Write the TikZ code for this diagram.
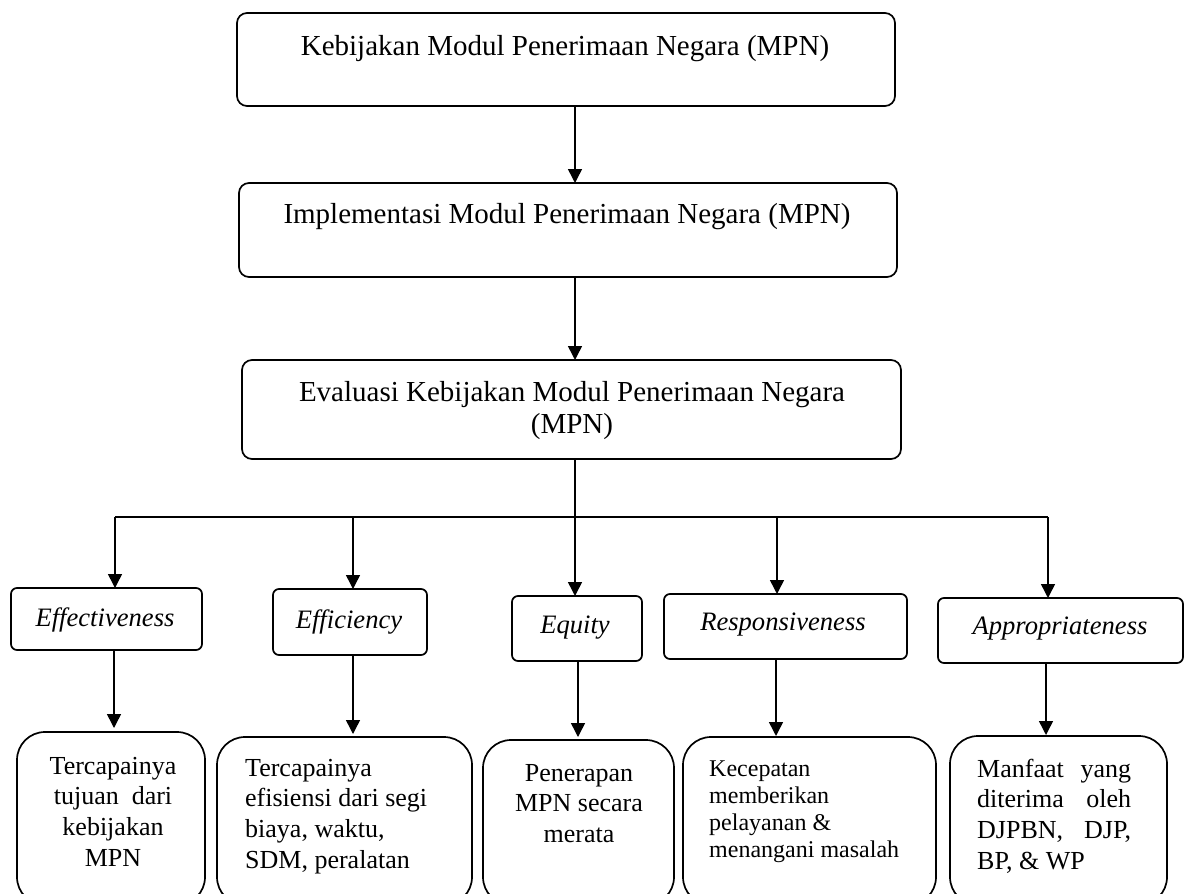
\documentclass[tikz,border=0pt]{standalone}
\usepackage{fontspec}
\setmainfont{Liberation Serif}
\usetikzlibrary{arrows.meta}
\begin{document}
\begin{tikzpicture}[x=1pt,y=-1pt,
  topbox/.style={draw, line width=1.7pt, rounded corners=10pt, inner sep=0pt, outer sep=0pt},
  critbox/.style={draw, line width=1.7pt, rounded corners=6pt, inner sep=0pt, outer sep=0pt},
  resbox/.style={draw, line width=1.7pt, rounded corners=28pt, inner sep=0pt, outer sep=0pt},
  toptext/.style={anchor=base, inner sep=0pt, font=\fontsize{29}{32}\selectfont},
  crittext/.style={anchor=base, inner sep=0pt, font=\fontsize{26.6}{30}\selectfont\itshape},
  restext/.style={anchor=north, inner sep=0pt, font=\fontsize{26}{30.7}\selectfont},
  link/.style={line width=1.5pt},
  arr/.style={line width=1.5pt, -{Triangle[length=14pt,width=14pt]}},
]
\fill[white] (0,0) rectangle (1189,894);
\useasboundingbox (0,0) rectangle (1189,894);
\clip (0,0) rectangle (1189,894);

% policy chain
\node[topbox, minimum width=658pt, minimum height=93pt] (k) at (566,59.5) {};
\node[toptext] (tk) at (565,55) {Kebijakan Modul Penerimaan Negara (MPN)};
\node[topbox, minimum width=658pt, minimum height=94pt] (im) at (568,230) {};
\node[toptext] (tim) at (567,223) {Implementasi Modul Penerimaan Negara (MPN)};
\node[topbox, minimum width=659pt, minimum height=99pt] (ev) at (571.5,409.5) {};
\node[toptext, anchor=north, align=center] (tev) at (572,379)
  {\rule{0pt}{22pt}Evaluasi Kebijakan Modul Penerimaan Negara\\(MPN)};

\coordinate (axis) at (575,0);
\draw[arr] (k.south -| axis) -- (im.north -| axis);
\draw[arr] (im.south -| axis) -- (ev.north -| axis);

% evaluation criteria
\node[critbox, minimum width=191pt, minimum height=62pt] (ef) at (106.5,619) {};
\node[crittext] (tef) at (105,626) {Effectiveness};
\node[critbox, minimum width=154pt, minimum height=66pt] (ec) at (350,622) {};
\node[crittext] (tec) at (349,628) {Efficiency};
\node[critbox, minimum width=130pt, minimum height=65pt] (eq) at (577,628.5) {};
\node[crittext] (teq) at (575,633) {Equity};
\node[critbox, minimum width=243pt, minimum height=65pt] (rs) at (785.5,626.5) {};
\node[crittext] (trs) at (783,630) {Responsiveness};
\node[critbox, minimum width=245pt, minimum height=65pt] (ap) at (1060.5,630.5) {};
\node[crittext] (tap) at (1060,634) {Appropriateness};

\coordinate (hl) at (115,517);
\coordinate (hc) at (353,517);
\coordinate (hm) at (777,517);
\coordinate (hr) at (1048,517);
\draw[link] (hl) -- (hr);
\draw[arr] (hl) -- (hl |- ef.north);
\draw[arr] (hc) -- (hc |- ec.north);
\draw[arr] (ev.south -| axis) -- (eq.north -| axis);
\draw[arr] (hm) -- (hm |- rs.north);
\draw[arr] (hr) -- (hr |- ap.north);

% indicators
\node[resbox, minimum width=188pt, minimum height=173pt] (o1) at (111,818.5) {};
\node[resbox, minimum width=255pt, minimum height=168pt] (o2) at (344.5,821) {};
\node[resbox, minimum width=191pt, minimum height=165pt] (o3) at (578.5,822.5) {};
\node[resbox, minimum width=253pt, minimum height=168pt] (o4) at (809.5,821) {};
\node[resbox, minimum width=217pt, minimum height=169pt] (o5) at (1058.5,820.5) {};

\node[restext, align=center] (to1) at (113,754)
  {\rule{0pt}{20pt}Tercapainya\\tujuan\ \ dari\\kebijakan\\MPN};
\node[restext, anchor=north west, align=left] (to2) at (245,756)
  {\rule{0pt}{20pt}Tercapainya\\efisiensi dari segi\\biaya, waktu,\\SDM, peralatan};
\node[restext, align=center] (to3) at (579,761)
  {\rule{0pt}{20pt}Penerapan\\MPN secara\\merata};
\node[restext, anchor=north west, align=left, font=\fontsize{24}{27}\selectfont] (to4) at (709,756)
  {\rule{0pt}{20pt}Kecepatan\\memberikan\\pelayanan \&\\menangani masalah};
\node[restext, anchor=north west, align=left] (to5) at (977,757)
  {\rule{0pt}{20pt}\makebox[154pt][s]{Manfaat yang}\\\makebox[154pt][s]{diterima oleh}\\\makebox[154pt][s]{DJPBN, DJP,}\\BP, \& WP};

\coordinate (d1) at (114,0);
\coordinate (d2) at (353,0);
\coordinate (d3) at (578,0);
\coordinate (d4) at (776,0);
\coordinate (d5) at (1046,0);
\draw[arr, shorten >=4pt] (ef.south -| d1) -- (o1.north -| d1);
\draw[arr, shorten >=3pt] (ec.south -| d2) -- (o2.north -| d2);
\draw[arr, shorten >=3pt] (eq.south -| d3) -- (o3.north -| d3);
\draw[arr, shorten >=1pt] (rs.south -| d4) -- (o4.north -| d4);
\draw[arr, shorten >=1pt] (ap.south -| d5) -- (o5.north -| d5);
\end{tikzpicture}
\end{document}
